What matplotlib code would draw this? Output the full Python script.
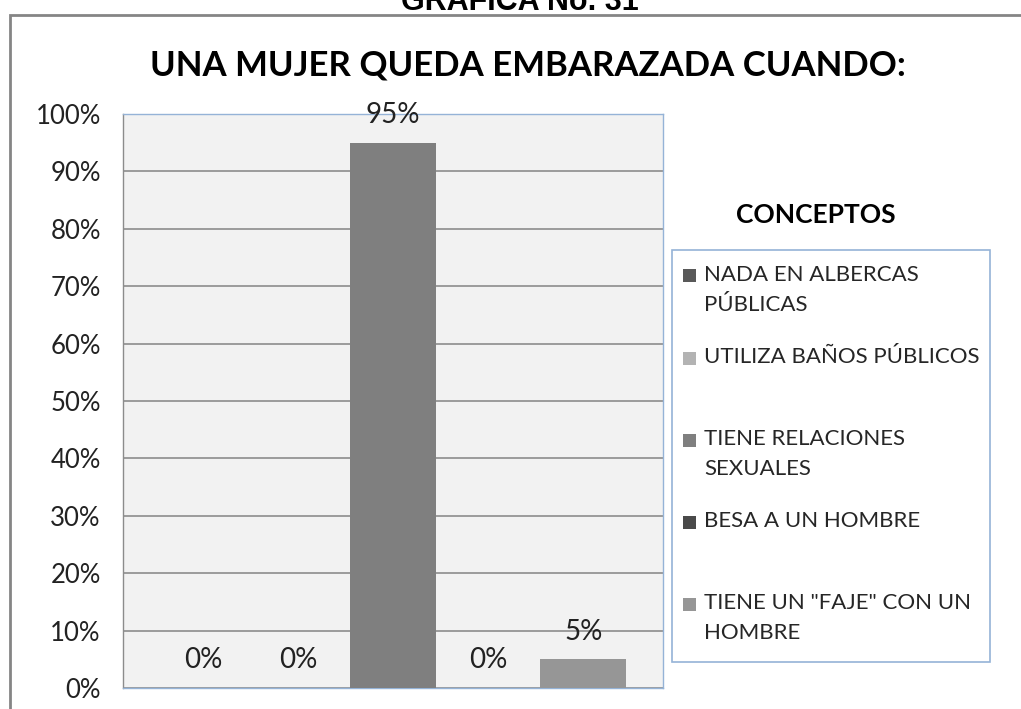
import matplotlib.pyplot as plt
from matplotlib.patches import Rectangle
from matplotlib.ticker import PercentFormatter

# data
categorias = ['NADA EN ALBERCAS\nPÚBLICAS', 'UTILIZA BAÑOS PÚBLICOS',
              'TIENE RELACIONES\nSEXUALES', 'BESA A UN HOMBRE',
              'TIENE UN "FAJE" CON UN\nHOMBRE']
porcentajes = [0, 0, 95, 0, 5]
colores = ['#595959', '#b3b3b3', '#7f7f7f', '#4a4a4a', '#969696']
yticks = [0, 10, 20, 30, 40, 50, 60, 70, 80, 90, 100]

W, H = 1021, 709
fig = plt.figure(figsize=(W / 100, H / 100), dpi=100)
fig.patch.set_facecolor('white')

def fx(px):
    return px / W

def fy(py):
    return 1 - py / H

# outer frame, cut by the picture edges
fig.patches.append(Rectangle((fx(10), -0.2), 1.2, fy(15) + 0.2, transform=fig.transFigure,
                             fill=False, edgecolor='#858585', linewidth=2, clip_on=False))

# heading of the page, cut off at the top like in the scan
fig.text(fx(520), fy(10), 'GRÁFICA No. 31', ha='center', va='baseline',
         fontsize=22, fontweight='bold', family='Liberation Sans', color='black')

fig.text(fx(528), fy(66), 'UNA MUJER QUEDA EMBARAZADA CUANDO:', ha='center', va='center',
         fontsize=25, fontweight='bold', family='Lato', color='black')

ax = fig.add_axes([fx(123), fy(688), fx(663) - fx(123), fy(114) - fy(688)])
ax.set_facecolor('#f2f2f2')
x = range(len(categorias))
barras = ax.bar(x, porcentajes, width=0.91, color=colores, zorder=3)
ax.set_xlim(-0.84, len(categorias) - 1 + 0.84)
ax.set_ylim(0, 100)
ax.set_yticks(yticks)
ax.yaxis.set_major_formatter(PercentFormatter(decimals=0))
ax.set_xticks([])
ax.grid(axis='y', color='#8c8c8c', linewidth=1.2, zorder=1)
ax.tick_params(axis='y', length=0, pad=16, labelsize=18.5, labelcolor='#222222')
for lab in ax.get_yticklabels():
    lab.set_family('Lato')
for s in ax.spines.values():
    s.set_color('#95b3d7')
    s.set_linewidth(1)
ax.spines['left'].set_color('#8c8c8c')

for xi, v in zip(x, porcentajes):
    ax.annotate(f'{v}%', (xi, v), xytext=(0, 20), textcoords='offset points',
                ha='center', va='center', fontsize=20, family='Lato', color='#222222')

# legend
fig.text(fx(816), fy(215), 'CONCEPTOS', ha='center', va='center',
         fontsize=19, fontweight='bold', family='Lato', color='black')
fig.patches.append(Rectangle((fx(672), fy(662)), fx(990) - fx(672), fy(250) - fy(662),
                             transform=fig.transFigure, fill=False,
                             edgecolor='#95b3d7', linewidth=1.2))
for i, (nombre, c) in enumerate(zip(categorias, colores)):
    yc = 276 + i * 82
    fig.patches.append(Rectangle((fx(683), fy(yc + 6.5)), fx(13), 13 / H,
                                 transform=fig.transFigure, facecolor=c, edgecolor='none'))
    fig.text(fx(704), fy(yc - 11), nombre, ha='left', va='top', fontsize=16,
             family='Lato', color='#262626', linespacing=1.65)

fig.savefig('out.png', dpi=100)
